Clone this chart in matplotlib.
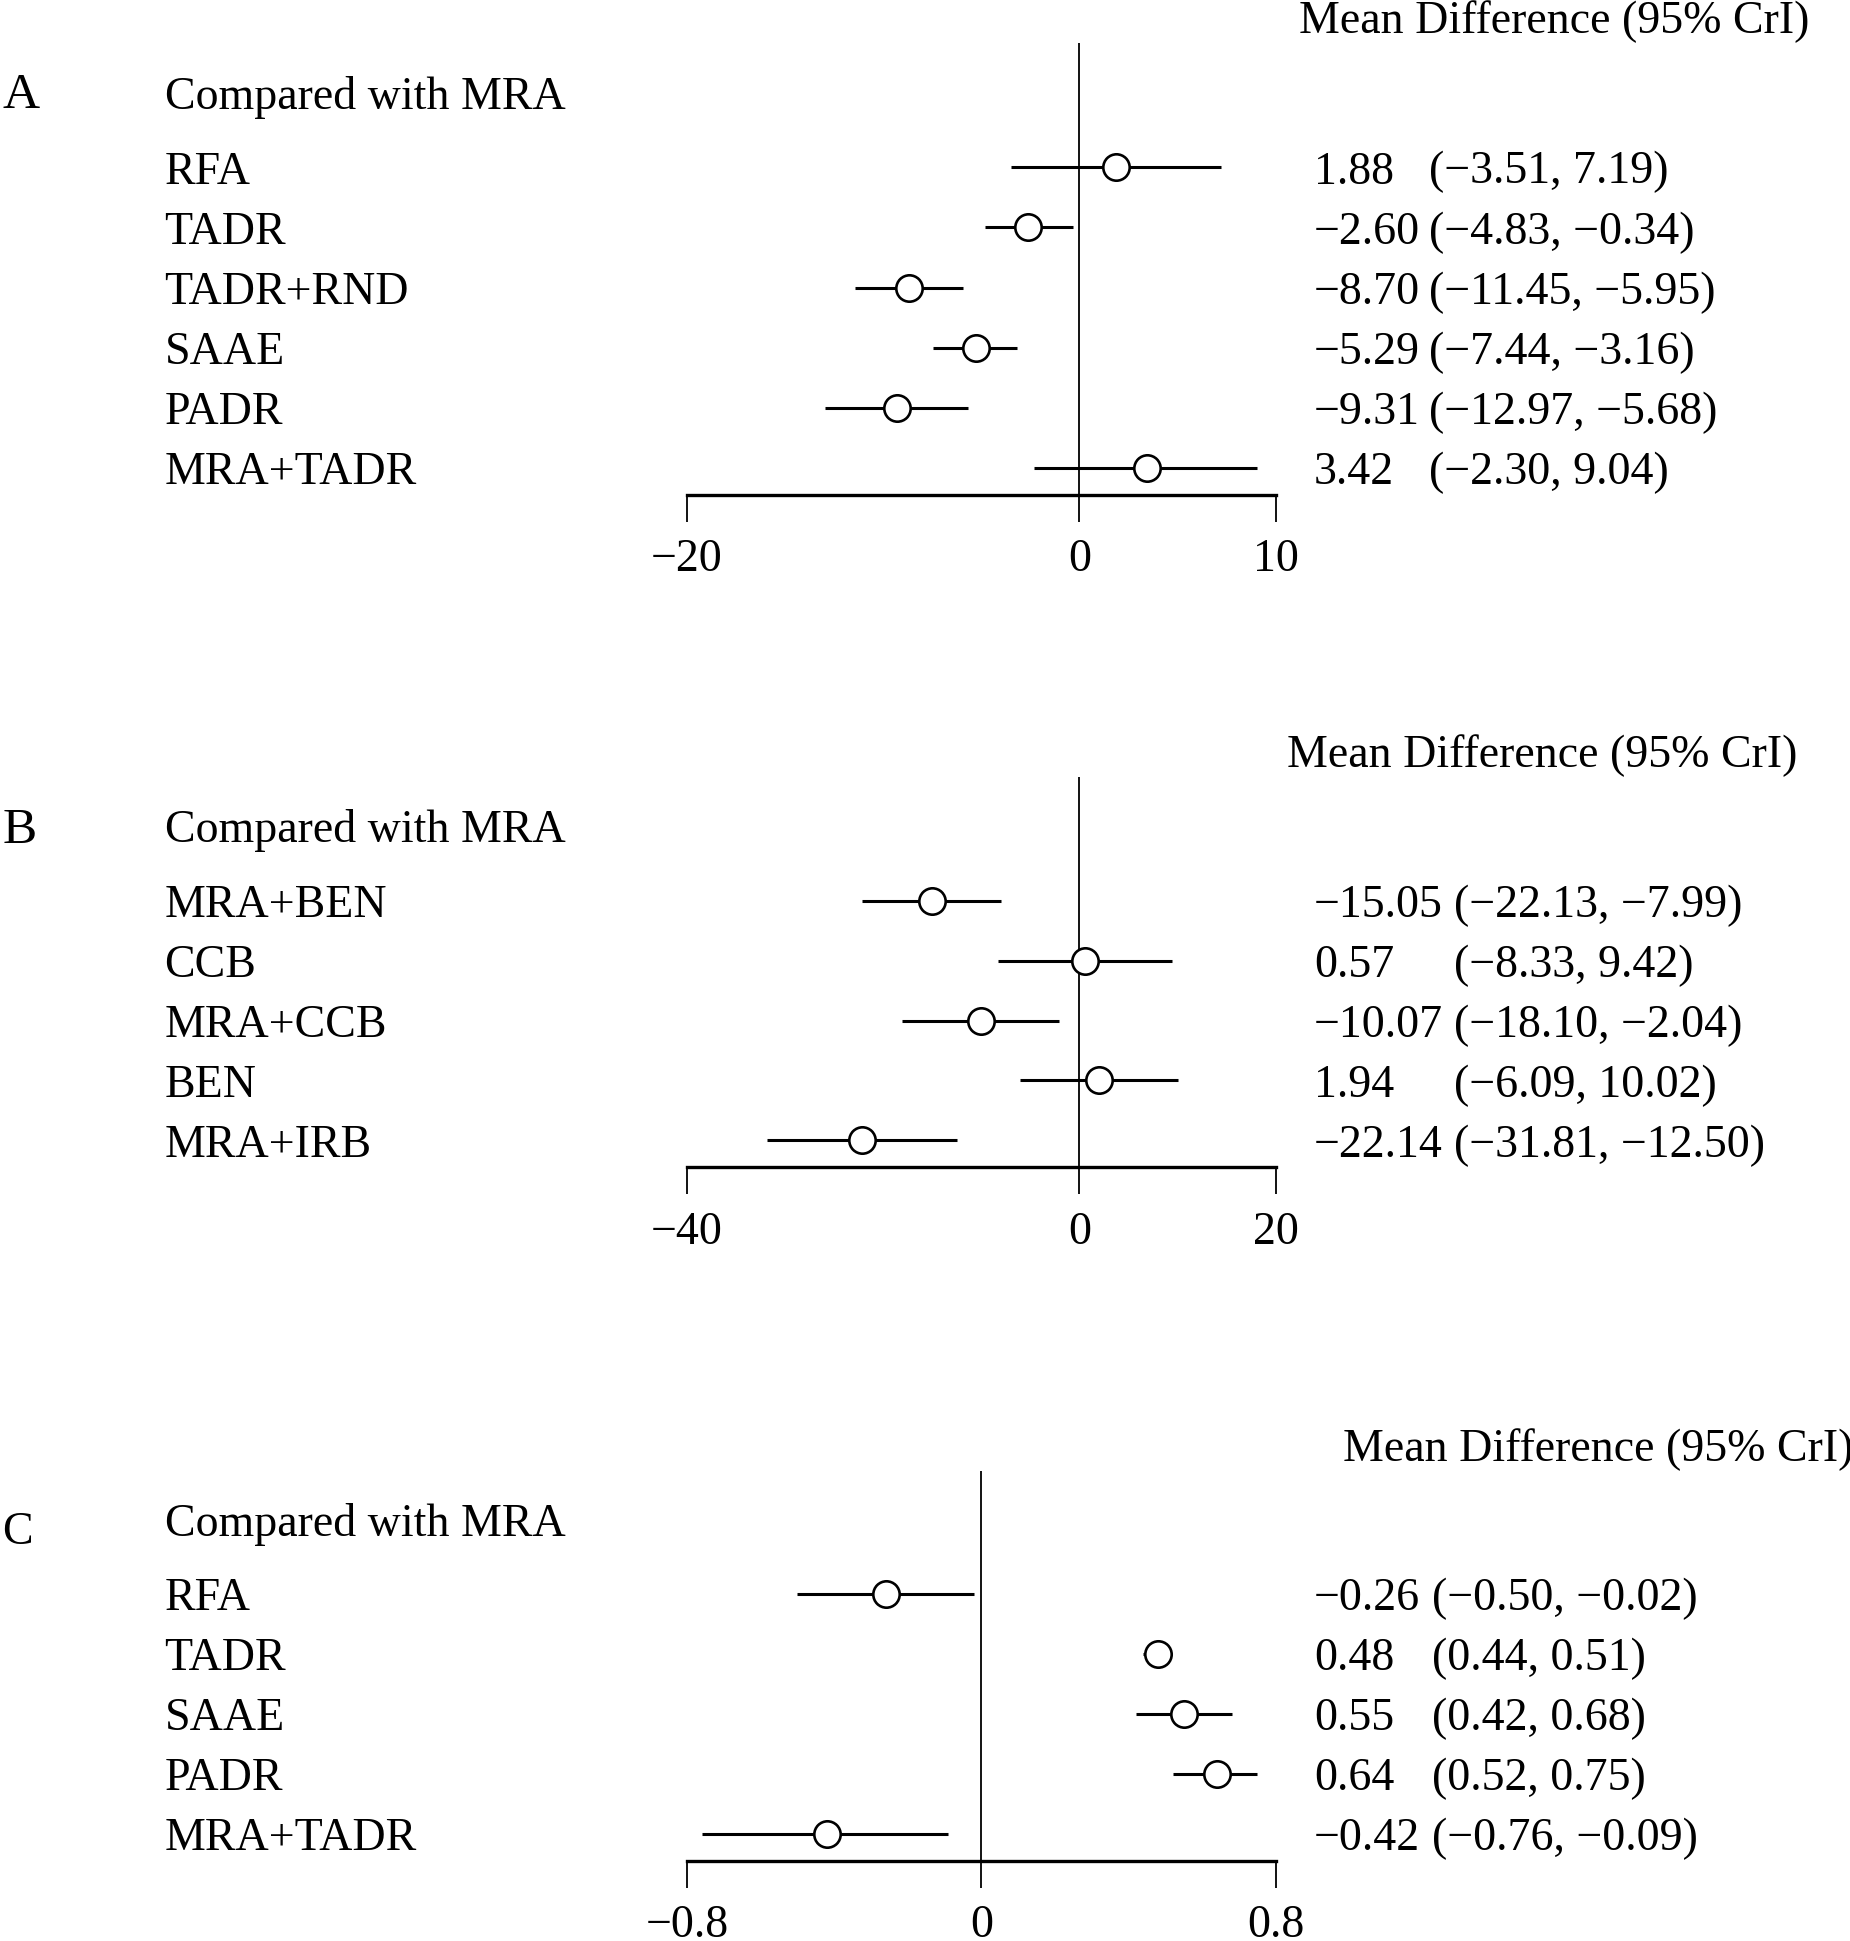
import matplotlib
matplotlib.use("Agg")
import matplotlib.pyplot as plt
import matplotlib.transforms as mtransforms

plt.rcParams['font.family'] = ['Liberation Serif', 'DejaVu Serif']

# ----- data
a_labels = ["RFA", "TADR", "TADR+RND", "SAAE", "PADR", "MRA+TADR"]
a_est = [1.88, -2.60, -8.70, -5.29, -9.31, 3.42]
a_lo = [-3.51, -4.83, -11.45, -7.44, -12.97, -2.30]
a_hi = [7.19, -0.34, -5.95, -3.16, -5.68, 9.04]
a_ticks = [-20, 0, 10]

b_labels = ["MRA+BEN", "CCB", "MRA+CCB", "BEN", "MRA+IRB"]
b_est = [-15.05, 0.57, -10.07, 1.94, -22.14]
b_lo = [-22.13, -8.33, -18.10, -6.09, -31.81]
b_hi = [-7.99, 9.42, -2.04, 10.02, -12.50]
b_ticks = [-40, 0, 20]

c_labels = ["RFA", "TADR", "SAAE", "PADR", "MRA+TADR"]
c_est = [-0.26, 0.48, 0.55, 0.64, -0.42]
c_lo = [-0.50, 0.44, 0.42, 0.52, -0.76]
c_hi = [-0.02, 0.51, 0.68, 0.75, -0.09]
c_ticks = [-0.8, 0, 0.8]

# reference layout was measured on a 1495x1568 view
W, H = 1495.0, 1568.0
FS = 33


def fmt(v):
    return f"{v:.2f}".replace("-", "\u2212")


def panel(fig, letter, labels, est, lo, hi, ticks, tick_labels,
          top, axis_y, letter_y, md_x, ci_x):
    n = len(labels)
    ax = fig.add_axes([555 / W, 1 - axis_y / H, 476 / W, (axis_y - top) / H])
    ax.set_xlim(ticks[0], ticks[-1])
    ax.set_ylim(n - 1 + 0.45, -2.06)
    for s in ["top", "left", "right"]:
        ax.spines[s].set_visible(False)
    ax.spines["bottom"].set_linewidth(2.4)
    ax.set_yticks([])
    ax.set_xticks(ticks)
    ax.set_xticklabels(tick_labels)
    ax.tick_params(axis="x", direction="out", length=19.5, width=1.3,
                   pad=12, labelsize=FS)
    ax.axvline(0, color="black", lw=1.3)
    rows = list(range(n))
    ax.hlines(rows, lo, hi, color="black", lw=2.2, zorder=3)
    ax.plot(est, rows, "o", ms=19, mfc="white", mec="black", mew=1.9,
            zorder=4, clip_on=False)

    tr = mtransforms.blended_transform_factory(fig.transFigure, ax.transData)
    for i, lab in enumerate(labels):
        ax.text(133 / W, i, lab, transform=tr, fontsize=FS,
                ha="left", va="center_baseline")
        ax.text(1062 / W, i, fmt(est[i]), transform=tr, fontsize=FS,
                ha="left", va="center_baseline")
        ax.text(ci_x / W, i, "(" + fmt(lo[i]) + ", " + fmt(hi[i]) + ")",
                transform=tr, fontsize=FS, ha="left", va="center_baseline")
    ax.text(133 / W, -1.25, "Compared with MRA", transform=tr, fontsize=FS,
            ha="left", va="center_baseline")
    ax.text(md_x / W, -2.5, "Mean Difference (95% CrI)", transform=tr,
            fontsize=FS, ha="left", va="center_baseline")
    ax.text(2 / W, letter_y, letter, transform=tr,
            fontsize=FS + 4 if letter != "C" else FS,
            ha="left", va="center_baseline")


fig = plt.figure(figsize=(18.5, 19.41), dpi=100)

panel(fig, "A", a_labels, a_est, a_lo, a_hi, a_ticks,
      ["\u221220", "0", "10"], top=35, axis_y=400, letter_y=-1.28,
      md_x=1050, ci_x=1155)
panel(fig, "B", b_labels, b_est, b_lo, b_hi, b_ticks,
      ["\u221240", "0", "20"], top=628, axis_y=943, letter_y=-1.26,
      md_x=1040, ci_x=1175)
panel(fig, "C", c_labels, c_est, c_lo, c_hi, c_ticks,
      ["\u22120.8", "0", "0.8"], top=1188, axis_y=1503, letter_y=-1.1,
      md_x=1085, ci_x=1157)

fig.savefig("out.png", dpi=100, facecolor="white")
